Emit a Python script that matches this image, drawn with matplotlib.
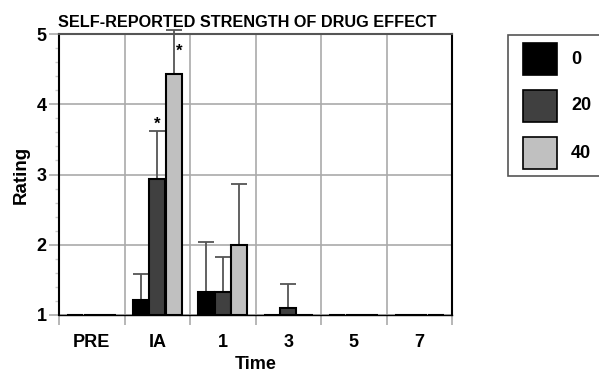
import numpy as np
import matplotlib.pyplot as plt
from matplotlib.patches import Rectangle
from matplotlib.ticker import MultipleLocator

plt.rcParams['font.family'] = ['Liberation Sans', 'DejaVu Sans']
plt.rcParams['font.weight'] = 'bold'

times = ['PRE', 'IA', '1', '3', '5', '7']
doses = ['0', '20', '40']
colors = ['#000000', '#404040', '#c0c0c0']

means = {
    '0':  [1.0, 1.22, 1.33, 1.0, 1.0, 1.0],
    '20': [1.0, 2.93, 1.33, 1.10, 1.0, 1.0],
    '40': [1.0, 4.43, 2.00, 1.0, 1.0, 1.0],
}
errs = {
    '0':  [0.0, 0.36, 0.71, 0.0, 0.0, 0.0],
    '20': [0.0, 0.69, 0.50, 0.34, 0.0, 0.0],
    '40': [0.0, 0.63, 0.87, 0.0, 0.0, 0.0],
}

W, H = 599, 373
fig = plt.figure(figsize=(W / 100, H / 100), dpi=100)
ax = fig.add_axes([0.0985, 0.1555, 0.6561, 0.7533])

x = np.arange(len(times))
w = 0.25
for i, d in enumerate(doses):
    m = np.array(means[d])
    e = np.array(errs[d])
    xs = x + (i - 1) * w
    ax.bar(xs, m - 1, w * 0.97, bottom=1, color=colors[i], edgecolor='black',
           linewidth=1.5, zorder=5)
    has = e > 0
    ax.errorbar(xs[has], m[has], yerr=[np.zeros(has.sum()), e[has]],
                fmt='none', ecolor='#555555', elinewidth=1.3, capsize=5.5,
                capthick=1.3, zorder=2, clip_on=False)

# significance markers
ax.text(x[1], 3.72, '*', ha='center', va='center', fontsize=12)
ax.text(x[1] + w + 0.08, 4.76, '*', ha='center', va='center', fontsize=12)

ax.set_xlim(-0.5, len(times) - 0.5)
ax.set_ylim(1, 5)
ax.set_xticks(x)
ax.set_xticklabels(times)
ax.set_xticks(np.arange(len(times) + 1) - 0.5, minor=True)
ax.tick_params(axis='x', which='major', length=0, pad=14, labelsize=13)
ax.tick_params(axis='x', which='minor', length=7, color='#aaaaaa', width=1.2)
ax.set_yticks([1, 2, 3, 4, 5])
ax.yaxis.set_minor_locator(MultipleLocator(0.2))
ax.tick_params(axis='y', which='major', length=7, color='#aaaaaa', width=1.2,
               labelsize=13, pad=2)
ax.tick_params(axis='y', which='minor', length=3, color='#cccccc', width=1)
ax.grid(True, axis='y', which='major', color='#aaaaaa', linewidth=1.2, zorder=0)
ax.grid(True, axis='x', which='minor', color='#aaaaaa', linewidth=1.2, zorder=0)
ax.set_axisbelow(True)
for s in ax.spines.values():
    s.set_linewidth(1.5)
    s.set_zorder(4)
ax.spines['top'].set_color('#555555')
ax.spines['bottom'].set_linewidth(1.0)

ax.set_xlabel('Time', fontsize=13, fontweight='bold', labelpad=3)
ax.set_ylabel('Rating', fontsize=13.5, fontweight='bold', labelpad=5)
ax.set_title('SELF-REPORTED STRENGTH OF DRUG EFFECT', fontsize=11.7,
             fontweight='bold', loc='left', x=-0.002, pad=5)


# legend drawn by hand so the frame runs off the right edge like the original
def fx(px):
    return px / W


def fy(py):
    return 1 - py / H


fig.patches.append(Rectangle((fx(508), fy(176)), fx(100), 141 / H,
                             transform=fig.transFigure, facecolor='white',
                             edgecolor='#555555', linewidth=1.2))
for i, (d, c) in enumerate(zip(doses, colors)):
    top = 43 + i * 47
    fig.patches.append(Rectangle((fx(523), fy(top + 32)), 34 / W, 32 / H,
                                 transform=fig.transFigure, facecolor=c,
                                 edgecolor='black', linewidth=1.2))
    fig.text(fx(571), fy(top + 16), d, fontsize=13, fontweight='bold',
             ha='left', va='center')

fig.savefig('out.png', dpi=100)
